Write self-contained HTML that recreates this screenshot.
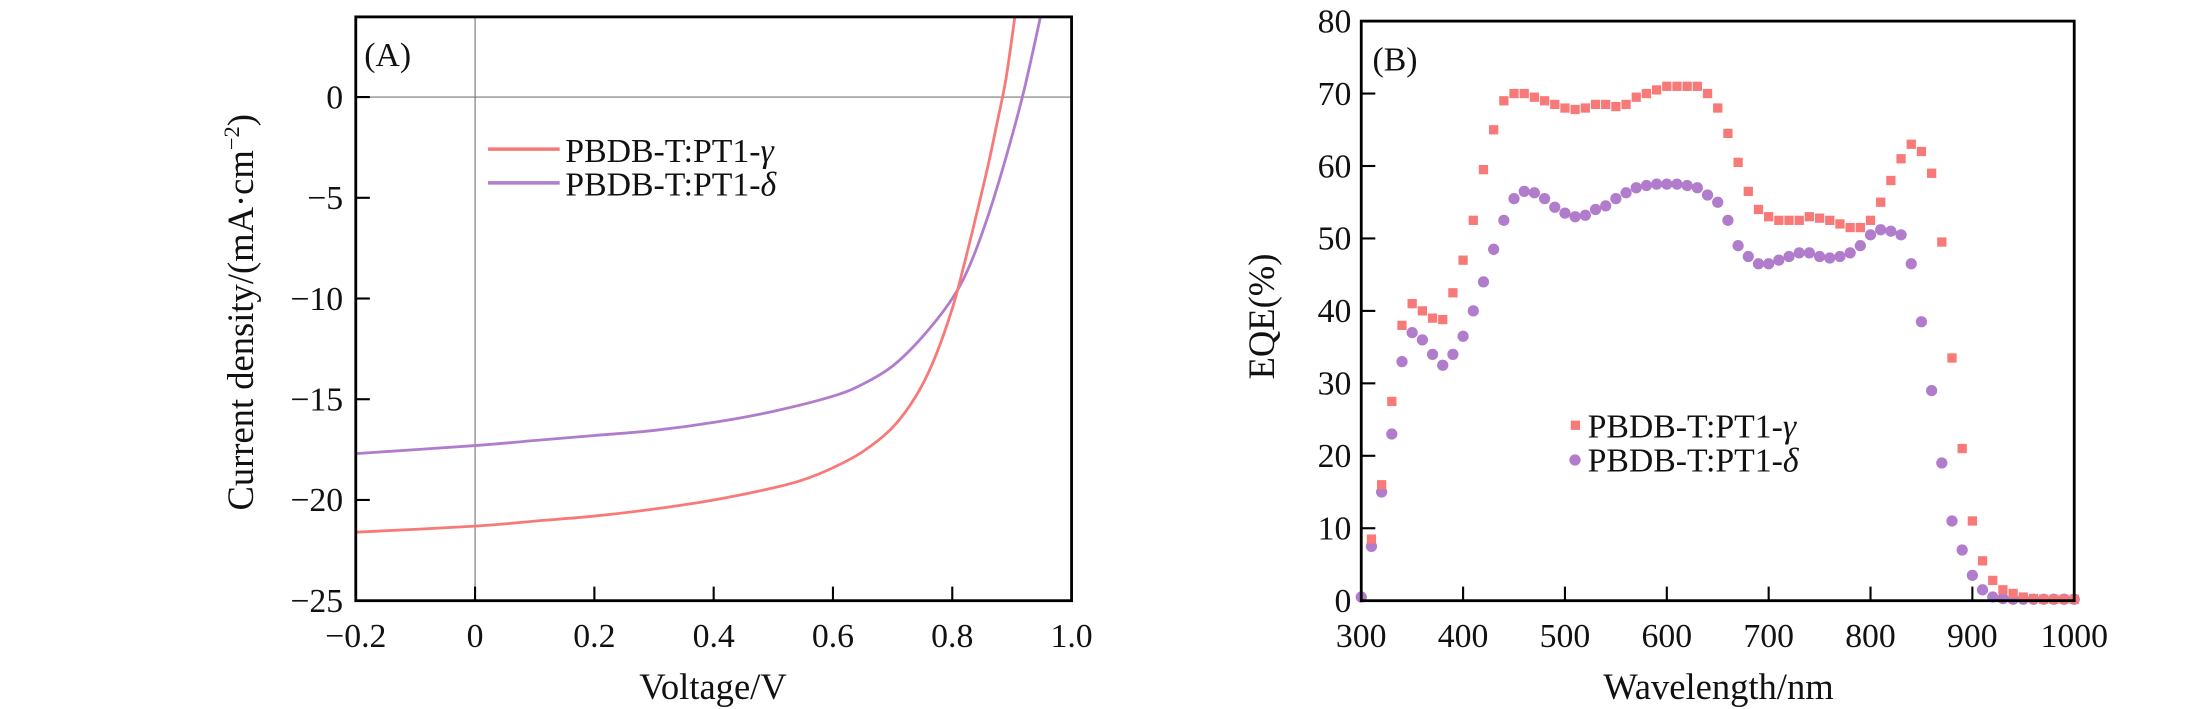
<!DOCTYPE html>
<html><head><meta charset="utf-8"><style>
html,body{margin:0;padding:0;background:#fff;}
svg{display:block;}
text{font-family:"Liberation Serif",serif;fill:#111;}
</style></head><body>
<svg id="chart" width="2205" height="709" viewBox="0 0 1568 504" preserveAspectRatio="none" xmlns="http://www.w3.org/2000/svg">
<g id="panelA"></g>
<g id="panelB"></g>
</svg>
<script>
// Panel A data
const voltGamma = [-0.2,0,0.1,0.2,0.3,0.4,0.5,0.55,0.6,0.65,0.7,0.74,0.77,0.8,0.82,0.84,0.86,0.875,0.89,0.905];
const jGamma = [-21.6,-21.3,-21.05,-20.8,-20.45,-20.0,-19.4,-19.0,-18.4,-17.6,-16.4,-14.8,-13.0,-10.5,-8.3,-5.9,-3.4,-1.3,0.9,4];
const voltDelta = [-0.2,0,0.1,0.2,0.3,0.4,0.5,0.6,0.65,0.7,0.75,0.8,0.83,0.86,0.89,0.92,0.948];
const jDelta = [-17.7,-17.3,-17.05,-16.8,-16.55,-16.15,-15.6,-14.85,-14.25,-13.35,-11.9,-10.0,-8.3,-5.9,-3.0,0.3,4];
const xTicksA = [-0.2,0,0.2,0.4,0.6,0.8,1.0];
const xTickLabelsA = ["\u22120.2","0","0.2","0.4","0.6","0.8","1.0"];
const yTicksA = [0,-5,-10,-15,-20,-25];
const yTickLabelsA = ["0","\u22125","\u221210","\u221215","\u221220","\u221225"];
// Panel B data
const wlGamma = [310,320,330,340,350,360,370,380,390,400,410,420,430,440,450,460,470,480,490,500,510,520,530,540,550,560,570,580,590,600,610,620,630,640,650,660,670,680,690,700,710,720,730,740,750,760,770,780,790,800,810,820,830,840,850,860,870,880,890,900,910,920,930,940,950,960,970,980,990,1000];
const eqeGamma = [8.5,16,27.5,38,41,40,39,38.8,42.5,47,52.5,59.5,65,69,70,70,69.5,69,68.5,68,67.8,68,68.5,68.5,68.2,68.5,69.5,70,70.5,71,71,71,71,70,68,64.5,60.5,56.5,54,53,52.5,52.5,52.5,53,52.8,52.5,52,51.5,51.5,52.5,55,58,61,63,62,59,49.5,33.5,21,11,5.5,2.8,1.5,1,0.5,0.3,0.2,0.2,0.2,0.2];
const wlDelta = [300,310,320,330,340,350,360,370,380,390,400,410,420,430,440,450,460,470,480,490,500,510,520,530,540,550,560,570,580,590,600,610,620,630,640,650,660,670,680,690,700,710,720,730,740,750,760,770,780,790,800,810,820,830,840,850,860,870,880,890,900,910,920,930,940,950,960,970,980,990,1000];
const eqeDelta = [0.5,7.5,15,23,33,37,36,34,32.5,34,36.5,40,44,48.5,52.5,55.5,56.5,56.3,55.5,54.3,53.5,53,53.2,54,54.5,55.5,56.3,57,57.3,57.5,57.5,57.5,57.3,57,56,55,52.5,49,47.5,46.5,46.5,47,47.5,48,48,47.5,47.3,47.5,48,49,50.5,51.2,51,50.5,46.5,38.5,29,19,11,7,3.5,1.5,0.5,0.3,0.2,0.2,0.2,0.2,0.2,0.2,0.2];
const xTicksB = [300,400,500,600,700,800,900,1000];
const yTicksB = [0,10,20,30,40,50,60,70,80];

const NS="http://www.w3.org/2000/svg";
const RED="#f77a78", PUR="#b07ccb";
function mk(parent,tag,attrs,txt){const e=document.createElementNS(NS,tag);for(const k in attrs)e.setAttribute(k,attrs[k]);if(txt!==undefined)e.textContent=txt;parent.appendChild(e);return e;}
function smooth(pts){let d="M"+pts[0][0]+","+pts[0][1];for(let i=0;i<pts.length-1;i++){const p0=pts[Math.max(i-1,0)],p1=pts[i],p2=pts[i+1],p3=pts[Math.min(i+2,pts.length-1)];const c1=[p1[0]+(p2[0]-p0[0])/6,p1[1]+(p2[1]-p0[1])/6],c2=[p2[0]-(p3[0]-p1[0])/6,p2[1]-(p3[1]-p1[1])/6];d+=" C"+c1[0]+","+c1[1]+" "+c2[0]+","+c2[1]+" "+p2[0]+","+p2[1];}return d;}

const TF=24, TT=26, LF=24;
// ---- Panel A ----
const A=document.getElementById('panelA');
const aL=253,aR=762,aT=12,aB=427;
const xA=v=>aL+(v+0.2)/1.2*(aR-aL);
const yA=j=>69+(-j)*(427-69)/25;
let e;
e=mk(A,'line',{x1:xA(0),y1:aT,x2:xA(0),y2:aB,stroke:'#777','stroke-width':0.8});

e=mk(A,'line',{x1:aL,y1:yA(0),x2:aR,y2:yA(0),stroke:'#777','stroke-width':0.8});

const ptsG=voltGamma.map((v,i)=>[xA(v),yA(jGamma[i])]);
const ptsD=voltDelta.map((v,i)=>[xA(v),yA(jDelta[i])]);
mk(A,'clipPath',{id:'clipA'});
mk(document.getElementById('clipA'),'rect',{x:aL,y:aT,width:aR-aL,height:aB-aT});
e=mk(A,'path',{d:smooth(ptsD),fill:'none',stroke:PUR,'stroke-width':2,'clip-path':'url(#clipA)'});

e=mk(A,'path',{d:smooth(ptsG),fill:'none',stroke:RED,'stroke-width':2,'clip-path':'url(#clipA)'});

e=mk(A,'rect',{x:aL,y:aT,width:aR-aL,height:aB-aT,fill:'none',stroke:'#000','stroke-width':2});

xTicksA.forEach((v,i)=>{
 e=mk(A,'line',{x1:xA(v),y1:aB,x2:xA(v),y2:aB-10,stroke:'#000','stroke-width':1.5});
 
 e=mk(A,'text',{x:xA(v),y:460,'text-anchor':'middle','font-size':TF},xTickLabelsA[i]);
 
});
yTicksA.forEach((v,i)=>{
 e=mk(A,'line',{x1:aL,y1:yA(v),x2:aL+10,y2:yA(v),stroke:'#000','stroke-width':1.5});
 
 e=mk(A,'text',{x:244,y:yA(v)+8,'text-anchor':'end','font-size':TF},yTickLabelsA[i]);
 
});
e=mk(A,'text',{x:507,y:497,'text-anchor':'middle','font-size':TT},'Voltage/V');

e=mk(A,'text',{x:0,y:0,'text-anchor':'middle','font-size':TT,transform:'translate(180,222) rotate(-90)'});

e.innerHTML='Current density/(mA·cm<tspan dy="-10" font-size="16">−2</tspan><tspan dy="10">)</tspan>';
e=mk(A,'text',{x:259,y:47,'font-size':TF},'(A)');

[[RED,'γ',106],[PUR,'δ',130]].forEach(([c,g,y])=>{
 e=mk(A,'line',{x1:347,y1:y,x2:398,y2:y,stroke:c,'stroke-width':2.5});
 
 e=mk(A,'text',{x:402,y:y+9,'font-size':LF});
 
 e.innerHTML='PBDB-T:PT1-<tspan font-style="italic">'+g+'</tspan>';
});

// ---- Panel B ----
const B=document.getElementById('panelB');
const bL=968,bR=1475,bT=15,bB=427;
const xB=w=>bL+(w-300)/700*(bR-bL);
const yB=v=>bB-v/80*(bB-bT);
eqeDelta.forEach((v,i)=>{
 e=mk(B,'circle',{cx:xB(wlDelta[i]),cy:yB(v),r:4,fill:PUR});
 
});
eqeGamma.forEach((v,i)=>{
 e=mk(B,'rect',{x:xB(wlGamma[i])-3.3,y:yB(v)-3.3,width:6.6,height:6.6,fill:RED});
 
});
e=mk(B,'rect',{x:bL,y:bT,width:bR-bL,height:bB-bT,fill:'none',stroke:'#000','stroke-width':2});

xTicksB.forEach(v=>{
 e=mk(B,'line',{x1:xB(v),y1:bB,x2:xB(v),y2:bB-10,stroke:'#000','stroke-width':1.5});
 
 e=mk(B,'text',{x:xB(v),y:460,'text-anchor':'middle','font-size':TF},String(v));
 
});
yTicksB.forEach(v=>{
 e=mk(B,'line',{x1:bL,y1:yB(v),x2:bL+10,y2:yB(v),stroke:'#000','stroke-width':1.5});
 
 e=mk(B,'text',{x:961,y:yB(v)+8,'text-anchor':'end','font-size':TF},String(v));
 
});
e=mk(B,'text',{x:1222,y:497,'text-anchor':'middle','font-size':TT},'Wavelength/nm');

e=mk(B,'text',{x:0,y:0,'text-anchor':'middle','font-size':TT,transform:'translate(906,225) rotate(-90)'},'EQE(%)');

e=mk(B,'text',{x:976,y:50,'font-size':TF},'(B)');

e=mk(B,'rect',{x:1117,y:299,width:6.6,height:6.6,fill:RED});

e=mk(B,'circle',{cx:1120,cy:327,r:4,fill:PUR});

[['γ',311],['δ',335]].forEach(([g,y])=>{
 e=mk(B,'text',{x:1129,y:y,'font-size':LF});
 
 e.innerHTML='PBDB-T:PT1-<tspan font-style="italic">'+g+'</tspan>';
});
</script>
</body></html>
